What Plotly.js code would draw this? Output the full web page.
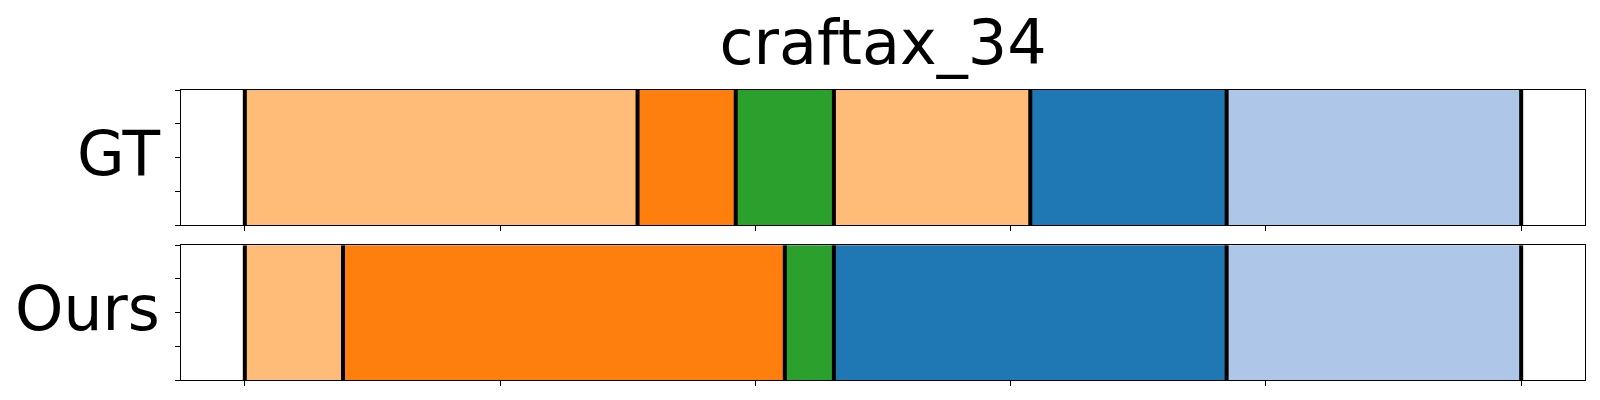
<!DOCTYPE html>
<html>
<head>
<meta charset="utf-8">
<script src="https://cdn.plot.ly/plotly-3.0.1.min.js"></script>
<style>html,body{margin:0;padding:0;background:#fff;}#chart{width:1600px;height:400px;}</style>
</head>
<body>
<div id="chart"></div>
<script>
// ---- data ----
const chartTitle = 'craftax_34';
const rowLabels = ['GT', 'Ours'];
const totalSteps = 26;
const gtBounds = [0, 8, 10, 12, 16, 20, 26];
const gtClasses = ['c1', 'c2', 'c3', 'c1', 'c4', 'c5'];
const oursBounds = [0, 2, 11, 12, 20, 26];
const oursClasses = ['c1', 'c2', 'c3', 'c4', 'c5'];
const xTicks = [0, 0.2, 0.4, 0.6, 0.8, 1.0];
const yTicks = [0, 0.25, 0.5, 0.75, 1.0];

// ---- styles ----
const classColors = {c1: '#ffbb78', c2: '#ff7f0e', c3: '#2ca02c', c4: '#1f77b4', c5: '#aec7e8'};
const FONT = 'DejaVu Sans, sans-serif';

function rowTraces(bounds, classes, xa, ya) {
  const tr = [];
  for (let i = 0; i < classes.length; i++) {
    const s = bounds[i] / totalSteps, e = bounds[i + 1] / totalSteps;
    tr.push({
      type: 'bar', orientation: 'h', xaxis: xa, yaxis: ya,
      y: [0.5], x: [e - s], base: [s], width: [1],
      marker: {color: classColors[classes[i]], line: {width: 0}},
      showlegend: false, hoverinfo: 'skip'
    });
  }
  const lx = [], ly = [];
  bounds.forEach(b => { lx.push(b / totalSteps, b / totalSteps, null); ly.push(0, 1, null); });
  tr.push({type: 'scatter', mode: 'lines', xaxis: xa, yaxis: ya, x: lx, y: ly,
    line: {color: '#000', width: 4}, showlegend: false, hoverinfo: 'skip', cliponaxis: false});
  return tr;
}

const data = [].concat(
  rowTraces(gtBounds, gtClasses, 'x', 'y'),
  rowTraces(oursBounds, oursClasses, 'x2', 'y2')
);

const xBase = {range: [-0.05, 1.05], tickvals: xTicks, showticklabels: false, ticks: 'outside',
  ticklen: 5, tickwidth: 1, tickcolor: '#000', showline: true, linecolor: '#000', linewidth: 1,
  mirror: true, showgrid: false, zeroline: false, fixedrange: true};
const yBase = {range: [0, 1], tickvals: yTicks, showticklabels: false, ticks: 'outside',
  ticklen: 5, tickwidth: 1, tickcolor: '#000', showline: true, linecolor: '#000', linewidth: 1,
  mirror: true, showgrid: false, zeroline: false, fixedrange: true};

const layout = {
  width: 1600, height: 400,
  margin: {l: 181, r: 15, t: 90, b: 20},
  paper_bgcolor: '#fff', plot_bgcolor: '#fff',
  barmode: 'overlay', bargap: 0,
  font: {family: FONT, color: '#000'},
  title: {text: chartTitle, font: {family: FONT, size: 62, color: '#000'},
    x: 0.5, xref: 'paper', xanchor: 'center', y: 0.895, yref: 'container', yanchor: 'middle'},
  xaxis: Object.assign({}, xBase, {domain: [0, 1], anchor: 'y'}),
  yaxis: Object.assign({}, yBase, {domain: [0.5345, 1], anchor: 'x'}),
  xaxis2: Object.assign({}, xBase, {domain: [0, 1], anchor: 'y2'}),
  yaxis2: Object.assign({}, yBase, {domain: [0, 0.4645], anchor: 'x2'}),
  annotations: [
    {text: rowLabels[0], xref: 'paper', yref: 'y', x: -0.0135, y: 0.5, xanchor: 'right', yanchor: 'middle',
      showarrow: false, font: {family: FONT, size: 61.5, color: '#000'}, yshift: 4},
    {text: rowLabels[1], xref: 'paper', yref: 'y2', x: -0.0135, y: 0.5, xanchor: 'right', yanchor: 'middle',
      showarrow: false, font: {family: FONT, size: 61.5, color: '#000'}, yshift: 4}
  ]
};

Plotly.newPlot('chart', data, layout, {staticPlot: true, displayModeBar: false});
</script>
</body>
</html>
